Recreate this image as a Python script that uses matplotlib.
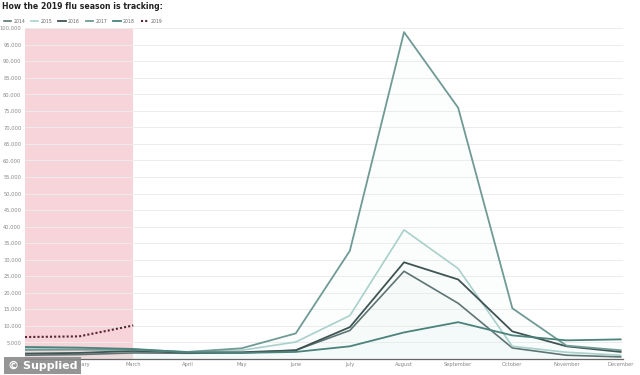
import numpy as np
import matplotlib.pyplot as plt

months = ["January", "February", "March", "April", "May", "June", "July",
          "August", "September", "October", "November", "December"]

flu_2014 = [1100, 1300, 1800, 1700, 1800, 2600, 8600, 26500, 16800, 3300, 1100, 600]
flu_2015 = [3100, 2900, 2400, 2100, 2600, 5100, 13100, 39000, 27300, 3800, 2000, 1100]
flu_2016 = [1600, 1800, 2400, 1900, 2000, 2600, 9600, 29200, 24000, 8300, 3800, 2100]
flu_2017 = [2700, 2800, 2800, 2100, 3200, 7700, 32700, 98800, 75900, 15300, 4000, 2600]
flu_2018 = [3600, 3400, 3000, 2000, 1800, 2100, 3800, 8000, 11100, 7100, 5600, 5900]
flu_2019 = [6600, 6800, 10100]

years = ["2014", "2015", "2016", "2017", "2018", "2019"]
colors = ["#5e7473", "#a9d0cb", "#3f5453", "#6f9a95", "#4b827c", "#5a2633"]

fig = plt.figure(figsize=(6.4, 3.75), dpi=100)
ax = fig.add_axes([0.039, 0.043, 0.935, 0.882])

x = np.arange(len(months))
ax.axvspan(0, 2, color="#f6d4d9", zorder=0, lw=0)

series = [flu_2014, flu_2015, flu_2016, flu_2017, flu_2018]
widths = [1.2, 1.2, 1.3, 1.3, 1.3]
for name, vals, c, w in zip(years[:5], series, colors[:5], widths):
    ax.fill_between(x, vals, color="#e3f3f1", alpha=0.08, lw=0, zorder=1)
    ax.plot(x, vals, color=c, lw=w, label=name, zorder=3)
ax.plot(x[:3], flu_2019, color=colors[5], lw=1.5, ls=(0, (1, 1)), label="2019", zorder=4)

ax.set_xlim(0, 11.05)
ax.set_ylim(0, 100000)
ax.set_yticks(np.arange(5000, 100001, 5000))
ax.set_yticklabels([f"{v:,}" for v in range(5000, 100001, 5000)])
ax.set_xticks(x)
ax.set_xticklabels(months)
ax.tick_params(axis="both", labelsize=3.7, colors="#888888", length=0, pad=2.5)
ax.grid(axis="y", color="#ececec", lw=0.7)
ax.set_axisbelow(True)
for s in ["top", "right", "left"]:
    ax.spines[s].set_visible(False)
ax.spines["bottom"].set_color("#666666")
ax.spines["bottom"].set_linewidth(0.9)

fig.text(0.003, 0.982, "How the 2019 flu season is tracking:", fontsize=5.6,
         fontweight="bold", color="#222222", va="center", ha="left")
ax.legend(loc="lower left", bbox_to_anchor=(-0.04, 1.005), ncol=6, frameon=False,
          fontsize=3.3, handlelength=1.6, columnspacing=1.3, handletextpad=0.5,
          borderaxespad=0.2, labelcolor="#666666")

fig.text(0.012, 0.025, "© Supplied", fontsize=8, fontweight="bold", color="white",
         va="center", ha="left",
         bbox=dict(boxstyle="square,pad=0.3", fc="#8a8a8a", ec="none", alpha=0.9))

fig.savefig("out.png", dpi=100)
